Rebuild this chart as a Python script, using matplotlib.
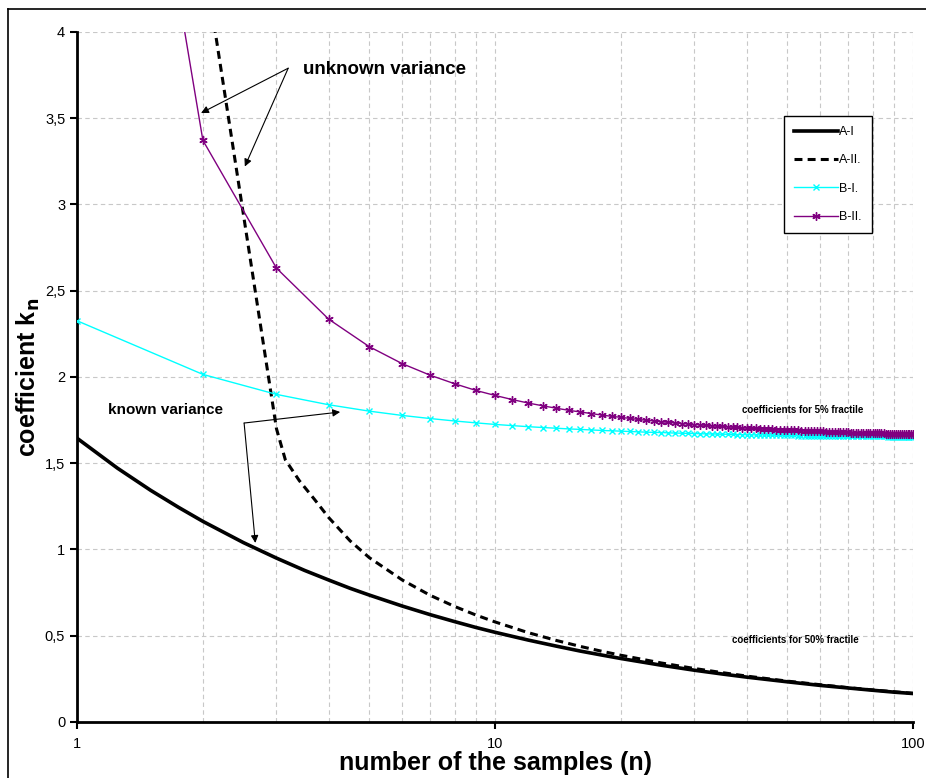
import numpy as np
import matplotlib
matplotlib.use("Agg")
import matplotlib.pyplot as plt
from matplotlib.lines import Line2D
from matplotlib.ticker import FixedLocator, FuncFormatter, NullFormatter

plt.rcParams['font.family'] = ['Liberation Sans', 'DejaVu Sans']

# --- data ---
n_all = np.arange(1, 101)

# known variance (line without markers)
n_a = [1, 1.25, 1.5, 1.75, 2, 2.5, 3, 3.5, 4, 4.5, 5, 6, 7, 8, 9, 10, 12, 14, 16, 18, 20,
       25, 30, 35, 40, 50, 60, 70, 80, 90, 100]
a_1 = [1.645, 1.471, 1.343, 1.244, 1.163, 1.040, 0.950, 0.879, 0.823, 0.775, 0.736,
       0.672, 0.622, 0.582, 0.548, 0.520, 0.475, 0.440, 0.411, 0.388, 0.368,
       0.329, 0.300, 0.278, 0.260, 0.233, 0.212, 0.197, 0.184, 0.173, 0.165]

# unknown variance (starts at n=2)
n_a2 = [2, 3, 3.15, 3.4, 3.7, 4, 4.5, 5, 6, 7, 8, 9, 10, 12, 14, 16, 18, 20, 25, 30, 35,
        40, 50, 60, 70, 80, 90, 100]
a_2 = [4.465, 1.70, 1.52, 1.40, 1.29, 1.185, 1.05, 0.953, 0.823, 0.734, 0.670, 0.620,
       0.580, 0.518, 0.473, 0.438, 0.410, 0.387, 0.342, 0.310, 0.286, 0.266, 0.237,
       0.216, 0.199, 0.186, 0.175, 0.166]

b_1 = [2.326, 2.015, 1.899, 1.839, 1.802, 1.777, 1.759, 1.745, 1.734, 1.725,
       1.718, 1.712, 1.707, 1.703, 1.699, 1.696, 1.693, 1.690, 1.688, 1.686,
       1.684, 1.682, 1.680, 1.679, 1.678, 1.676, 1.675, 1.674, 1.673, 1.672,
       1.671, 1.670, 1.670, 1.669, 1.668, 1.668, 1.667, 1.666, 1.666, 1.665,
       1.665, 1.664, 1.664, 1.664, 1.663, 1.663, 1.662, 1.662, 1.662, 1.661,
       1.661, 1.661, 1.660, 1.660, 1.660, 1.660, 1.659, 1.659, 1.659, 1.659,
       1.658, 1.658, 1.658, 1.658, 1.658, 1.657, 1.657, 1.657, 1.657, 1.657,
       1.657, 1.656, 1.656, 1.656, 1.656, 1.656, 1.656, 1.655, 1.655, 1.655,
       1.655, 1.655, 1.655, 1.655, 1.655, 1.655, 1.654, 1.654, 1.654, 1.654,
       1.654, 1.654, 1.654, 1.654, 1.654, 1.654, 1.653, 1.653, 1.653, 1.653]

b_2 = [7.733, 3.372, 2.631, 2.335, 2.176, 2.077, 2.010, 1.961, 1.922, 1.893,
       1.869, 1.849, 1.833, 1.819, 1.807, 1.797, 1.788, 1.779, 1.772, 1.766,
       1.760, 1.754, 1.749, 1.745, 1.740, 1.737, 1.733, 1.730, 1.727, 1.724,
       1.722, 1.719, 1.717, 1.715, 1.713, 1.711, 1.709, 1.708, 1.706, 1.704,
       1.703, 1.702, 1.700, 1.699, 1.698, 1.697, 1.695, 1.694, 1.693, 1.692,
       1.691, 1.691, 1.690, 1.689, 1.688, 1.687, 1.687, 1.686, 1.685, 1.684,
       1.684, 1.683, 1.682, 1.682, 1.681, 1.681, 1.680, 1.680, 1.679, 1.679,
       1.678, 1.678, 1.677, 1.677, 1.676, 1.676, 1.676, 1.675, 1.675, 1.674,
       1.674, 1.674, 1.673, 1.673, 1.673, 1.672, 1.672, 1.672, 1.671, 1.671,
       1.671, 1.671, 1.670, 1.670, 1.670, 1.670, 1.669, 1.669, 1.669, 1.669]

y_ticks = [0, 0.5, 1, 1.5, 2, 2.5, 3, 3.5, 4]
x_ticks = [1, 10, 100]

fig = plt.figure(figsize=(9.26, 7.78), dpi=100)
ax = fig.add_axes([0.0832, 0.072, 0.9028, 0.8869])

# outer frame (left and top only visible)
fig.add_artist(Line2D([8 / 926, 8 / 926], [0, 769 / 778], transform=fig.transFigure, color='black', lw=1.2))
fig.add_artist(Line2D([8 / 926, 1], [769 / 778, 769 / 778], transform=fig.transFigure, color='black', lw=1.2))

ax.plot(n_a, a_1, color='black', lw=2.6, label='A-I', zorder=3)
ax.plot(n_a2, a_2, color='black', lw=2.2, linestyle=(0, (2.6, 1.7)), label='A-II.', zorder=3)
ax.plot(n_all, b_1, color='#00ffff', lw=1.0, marker='x', ms=5, mew=1.0, label='B-I.', zorder=4)
ax.plot(n_all, b_2, color='#800080', lw=1.0, marker=(6, 2, 0), ms=6, mew=1.0, label='B-II.', zorder=4)

ax.set_xscale('log')
ax.set_xlim(1, 100)
ax.set_ylim(0, 4)

ax.xaxis.set_major_locator(FixedLocator(x_ticks))
ax.xaxis.set_major_formatter(FuncFormatter(lambda v, p: '%d' % v))
ax.xaxis.set_minor_locator(FixedLocator([k * d for d in (1, 10) for k in range(2, 10)]))
ax.xaxis.set_minor_formatter(NullFormatter())
ax.set_yticks(y_ticks)
ax.yaxis.set_major_formatter(FuncFormatter(lambda v, p: ('%g' % v).replace('.', ',')))

ax.tick_params(axis='both', which='major', labelsize=10.5, direction='out', length=5, width=1.5)
ax.tick_params(axis='x', which='minor', length=0)
ax.tick_params(axis='x', which='major', pad=6)

ax.grid(True, which='both', axis='x', color='#c8c8c8', linestyle=(0, (4, 3)), lw=0.8)
ax.grid(True, which='major', axis='y', color='#c8c8c8', linestyle=(0, (4, 3)), lw=0.8)
ax.set_axisbelow(True)

for side in ('top', 'right'):
    ax.spines[side].set_visible(False)
for side in ('left', 'bottom'):
    ax.spines[side].set_linewidth(2)

ax.set_xlabel('number of the samples (n)', fontsize=18, fontweight='bold', labelpad=0)
ax.set_ylabel(r'coefficient k$_\mathbf{n}$', fontsize=18, fontweight='bold', labelpad=2)

# annotations
arrow = dict(arrowstyle='-|>', color='black', lw=0.8, mutation_scale=11, shrinkA=0, shrinkB=0)
ax.text(3.47, 3.78, 'unknown variance', fontsize=13.5, fontweight='bold', ha='left', va='center')
ax.annotate('', xy=(1.98, 3.53), xytext=(3.2, 3.79), arrowprops=arrow)
ax.annotate('', xy=(2.52, 3.22), xytext=(3.2, 3.79), arrowprops=arrow)

ax.text(1.186, 1.81, 'known variance', fontsize=11, fontweight='bold', ha='left', va='center')
ax.annotate('', xy=(4.26, 1.797), xytext=(2.51, 1.733), arrowprops=arrow)
ax.annotate('', xy=(2.67, 1.038), xytext=(2.51, 1.733), arrowprops=arrow)

ax.text(54.6, 1.81, 'coefficients for 5% fractile', fontsize=7, fontweight='bold', ha='center', va='center')
ax.text(52.2, 0.475, 'coefficients for 50% fractile', fontsize=7, fontweight='bold', ha='center', va='center')

leg = ax.legend(loc='upper left', bbox_to_anchor=(0.846, 0.878), borderaxespad=0,
                fontsize=9, handlelength=3.5, handletextpad=0.1, labelspacing=1.3,
                borderpad=0.8, fancybox=False, framealpha=1, edgecolor='black')
leg.get_frame().set_linewidth(1.0)

fig.savefig('out.png', dpi=100)
